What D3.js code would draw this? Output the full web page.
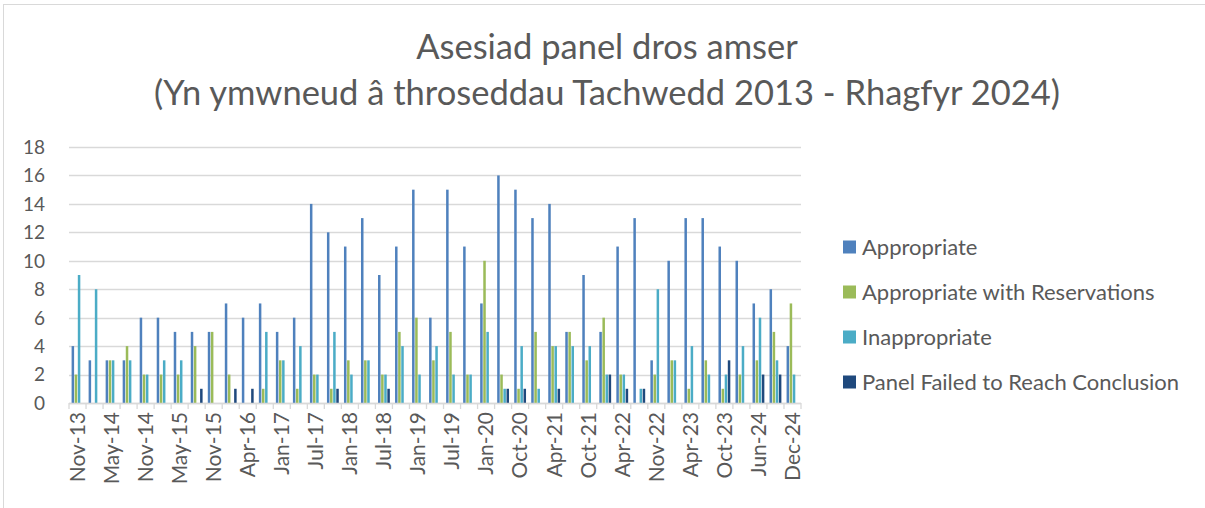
<!DOCTYPE html>
<html>
<head>
<meta charset="utf-8">
<script src="https://cdn.jsdelivr.net/npm/d3@7"></script>
<style>
  html, body { margin: 0; padding: 0; background: #fff; }
  svg { display: block; font-family: Lato, "Open Sans", sans-serif; }
</style>
</head>
<body>
<div id="chart"></div>
<script>
// Category labels (only every other one is shown on the axis)
const periods = [
  "Nov-13", "Feb-14", "May-14", "Aug-14", "Nov-14", "Feb-15", "May-15", "Aug-15",
  "Nov-15", "Jan-16", "Apr-16", "Jul-16", "Jan-17", "Apr-17", "Jul-17", "Oct-17",
  "Jan-18", "Apr-18", "Jul-18", "Oct-18", "Jan-19", "Apr-19", "Jul-19", "Oct-19",
  "Jan-20", "May-20", "Oct-20", "Jan-21", "Apr-21", "Jul-21", "Oct-21", "Jan-22",
  "Apr-22", "Jul-22", "Nov-22", "Jan-23", "Apr-23", "Jul-23", "Oct-23", "Jan-24",
  "Jun-24", "Sep-24", "Dec-24"
]

const appropriate = [4, 3, 3, 3, 6, 6, 5, 5, 5, 7, 6, 7, 5, 6, 14, 12, 11, 13, 9, 11, 15, 6, 15, 11, 7, 16, 15, 13, 14, 5, 9, 5, 11, 13, 3, 10, 13, 13, 11, 10, 7, 8, 4]
const withReservations = [2, 0, 3, 4, 2, 2, 2, 4, 5, 2, 0, 1, 3, 1, 2, 1, 3, 3, 2, 5, 6, 3, 5, 2, 10, 2, 1, 5, 4, 5, 3, 6, 2, 0, 2, 3, 1, 3, 1, 2, 3, 5, 7]
const inappropriate = [9, 8, 3, 3, 2, 3, 3, 0, 0, 0, 0, 5, 3, 4, 2, 5, 2, 3, 2, 4, 2, 4, 2, 2, 5, 1, 4, 1, 4, 4, 4, 2, 2, 1, 8, 3, 4, 2, 2, 4, 6, 3, 2]
const failed = [0, 0, 0, 0, 0, 0, 0, 1, 0, 1, 1, 0, 0, 0, 0, 1, 0, 0, 1, 0, 0, 0, 0, 0, 0, 1, 1, 0, 1, 0, 0, 2, 1, 1, 0, 0, 0, 0, 3, 0, 2, 2, 0]

const seriesNames = ["Appropriate", "Appropriate with Reservations", "Inappropriate", "Panel Failed to Reach Conclusion"]
const seriesColors = ["#4f81bd", "#9bbb59", "#4bacc6", "#1f497d"]
const seriesValues = [appropriate, withReservations, inappropriate, failed]
const yTicks = [0, 2, 4, 6, 8, 10, 12, 14, 16, 18]

const width = 1205
const height = 508
const plot = { left: 69, right: 801, top: 147, bottom: 403 }
const textColor = "#595959"

const svg = d3.select("#chart").append("svg")
  .attr("width", width)
  .attr("height", height)

// chart border
svg.append("rect")
  .attr("x", 3.5).attr("y", 4.5)
  .attr("width", width + 10).attr("height", height + 10)
  .attr("fill", "#fff")
  .attr("stroke", "#d9d9d9")

// Title
const title = svg.append("text")
  .attr("text-anchor", "middle")
  .attr("fill", textColor)
  .attr("font-size", "34.5px")
title.append("tspan").attr("x", 607).attr("y", 59).text("Asesiad panel dros amser")
title.append("tspan").attr("x", 607).attr("y", 105).text("(Yn ymwneud â throseddau Tachwedd 2013 - Rhagfyr 2024)")

const x0 = d3.scaleBand()
  .domain(periods)
  .range([plot.left, plot.right])
  .paddingInner(0.27)
  .paddingOuter(0.135)

const x1 = d3.scaleBand()
  .domain(d3.range(seriesNames.length))
  .range([0, x0.bandwidth()])

const y = d3.scaleLinear().domain([0, 18]).range([plot.bottom, plot.top])

// gridlines
svg.append("g")
  .selectAll("line")
  .data(yTicks)
  .join("line")
  .attr("x1", plot.left).attr("x2", plot.right)
  .attr("y1", (d) => Math.round(y(d)) + 0.5)
  .attr("y2", (d) => Math.round(y(d)) + 0.5)
  .attr("stroke", "#d9d9d9")
  .attr("stroke-width", 1.3)

// y axis labels
svg.append("g")
  .selectAll("text")
  .data(yTicks)
  .join("text")
  .attr("x", 45)
  .attr("y", (d) => y(d))
  .attr("dy", "0.36em")
  .attr("text-anchor", "end")
  .attr("fill", textColor)
  .attr("font-size", "19px")
  .text((d) => d)

// bars
const groups = svg.append("g")
  .selectAll("g")
  .data(periods)
  .join("g")
  .attr("transform", (d) => `translate(${x0(d)},0)`)

groups.selectAll("rect")
  .data((d, i) => seriesValues.map((vals, s) => ({ s, v: vals[i] })))
  .join("rect")
  .attr("x", (d) => x1(d.s) + 0.3)
  .attr("width", x1.bandwidth() - 0.6)
  .attr("y", (d) => y(d.v))
  .attr("height", (d) => y(0) - y(d.v))
  .attr("fill", (d) => seriesColors[d.s])

// x axis
const xAxis = svg.append("g")
  .attr("transform", `translate(0,${plot.bottom})`)
xAxis.append("line")
  .attr("x1", plot.left).attr("x2", plot.right)
  .attr("y1", 0.5).attr("y2", 0.5)
  .attr("stroke", "#d9d9d9")
  .attr("stroke-width", 1.3)

const step = x0.step()
xAxis.selectAll(".tick")
  .data(d3.range(periods.length + 1))
  .join("line")
  .attr("class", "tick")
  .attr("x1", (i) => plot.left + i * step)
  .attr("x2", (i) => plot.left + i * step)
  .attr("y1", 0).attr("y2", 6)
  .attr("stroke", "#d9d9d9")
  .attr("stroke-width", 1.3)

xAxis.selectAll("text")
  .data(periods.filter((d, i) => i % 2 === 0))
  .join("text")
  .attr("transform", (d) => `translate(${x0(d) + x0.bandwidth() / 2},9) rotate(-90)`)
  .attr("text-anchor", "end")
  .attr("dy", "0.35em")
  .attr("fill", textColor)
  .attr("font-size", "21px")
  .text((d) => d)

// legend
const legend = svg.append("g")
  .selectAll("g")
  .data(seriesNames)
  .join("g")
  .attr("transform", (d, i) => `translate(843,${247 + i * 45})`)

legend.append("rect")
  .attr("x", 0).attr("y", -6.5)
  .attr("width", 13).attr("height", 13)
  .attr("fill", (d, i) => seriesColors[i])

legend.append("text")
  .attr("x", 19)
  .attr("dy", "0.36em")
  .attr("fill", textColor)
  .attr("font-size", "22px")
  .text((d) => d)
</script>
</body>
</html>
